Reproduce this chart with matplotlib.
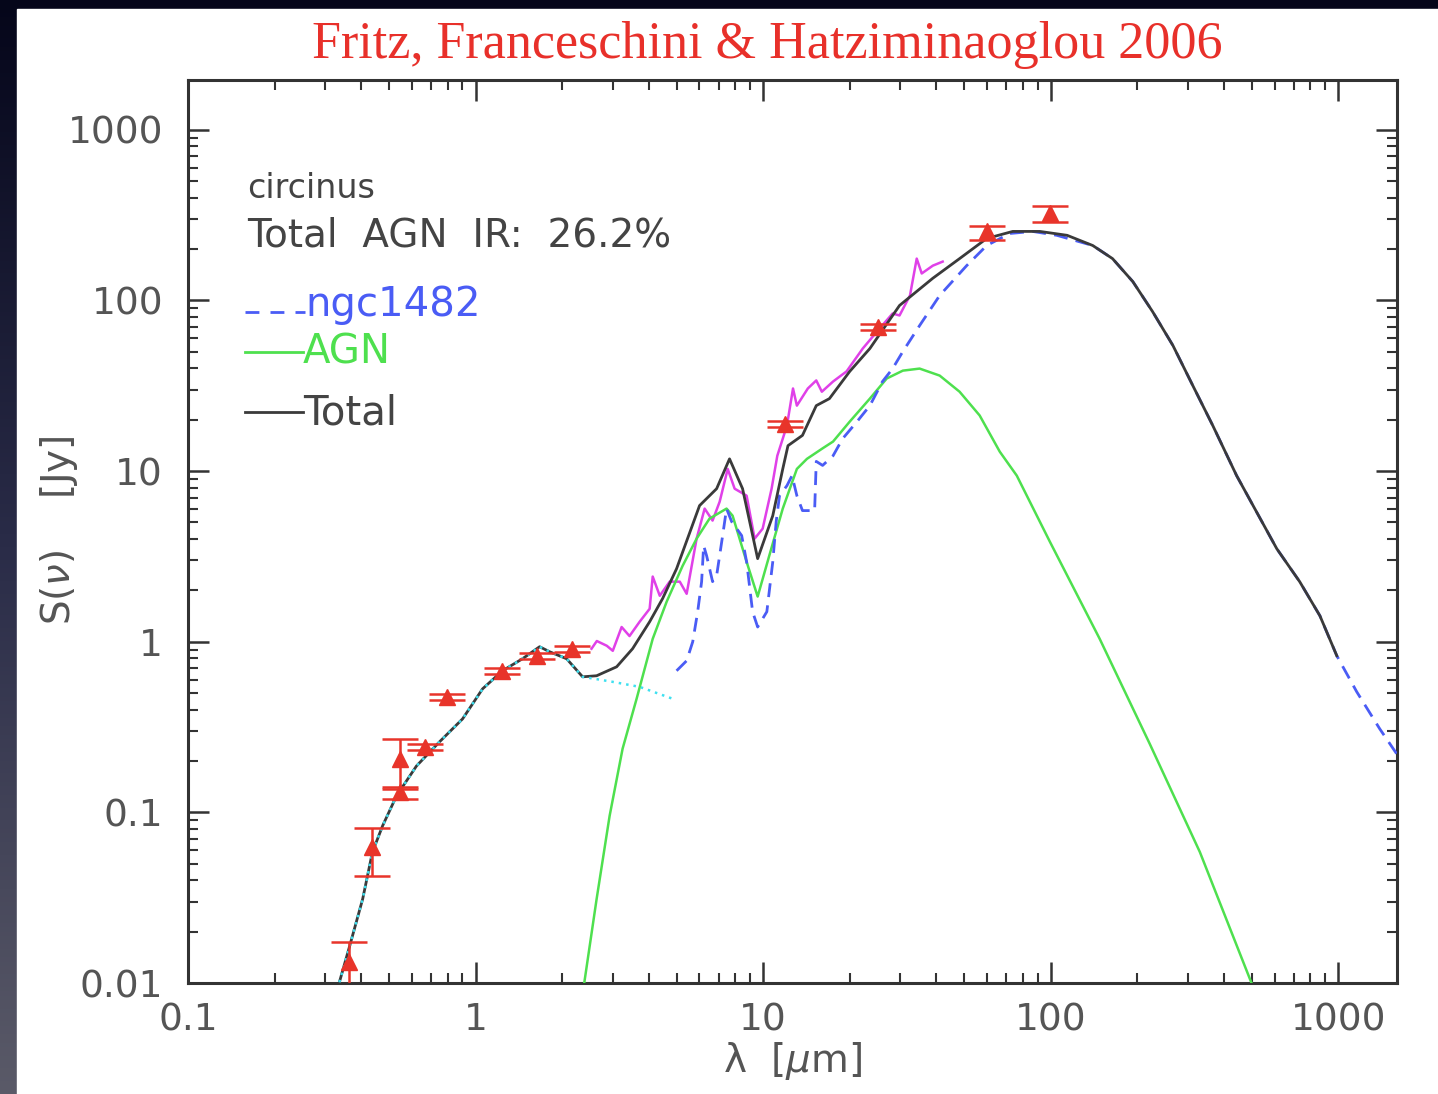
import matplotlib
matplotlib.use("Agg")
import matplotlib.pyplot as plt
import numpy as np
from matplotlib.ticker import LogLocator, NullFormatter
from matplotlib.patches import Rectangle

# total model (black)
lam_tot = [0.336, 0.365, 0.405, 0.438, 0.475, 0.531, 0.623, 0.749, 0.901, 1.058,
           1.241, 1.456, 1.670, 1.808, 2.073, 2.356, 2.636, 3.094, 3.515, 4.03,
           4.47, 5.00, 6.01, 6.89, 7.64, 8.48, 9.57, 10.8, 11.7, 12.2,
           13.7, 15.3, 17.0, 20.0, 23.5, 29.8, 38.9, 48.2, 59.9, 73.8,
           91.6, 114, 140, 164, 193, 226, 266, 312, 366, 443,
           611, 734, 863, 988]
s_tot = [0.0101, 0.0165, 0.0311, 0.0586, 0.0834, 0.125, 0.187, 0.259, 0.353, 0.530,
         0.676, 0.795, 0.935, 0.874, 0.795, 0.623, 0.632, 0.713, 0.910, 1.31,
         1.79, 2.68, 6.28, 7.89, 11.8, 7.89, 3.07, 5.48, 10.3, 14.1,
         16.2, 24.2, 26.6, 38.4, 52.3, 93.5, 135, 176, 231, 254,
         254, 241, 210, 176, 129, 86.1, 54.5, 31.7, 18.5, 9.41,
         3.51, 2.25, 1.42, 0.828]

# starburst template ngc1482 (blue dashed)
lam_sb = [5.00, 5.42, 5.69, 5.92, 6.11, 6.21, 6.36, 6.67, 6.89, 7.23,
          7.46, 7.77, 8.42, 8.76, 9.19, 9.57, 10.3, 10.8, 11.1, 11.4,
          12.1, 12.6, 13.1, 13.7, 15.1, 15.3, 16.1, 17.5, 18.9, 21.2,
          23.5, 26.0, 28.2, 30.6, 35.0, 41.1, 51.0, 59.9, 72.0, 86.5,
          105, 140, 164, 193, 226, 266, 312, 366, 443, 611,
          734, 863, 988, 1159, 1393, 1597]
s_sb = [0.676, 0.774, 1.0, 1.50, 2.25, 3.66, 3.19, 2.25, 2.44, 4.19,
        6.03, 5.06, 4.19, 2.94, 1.50, 1.22, 1.50, 2.94, 5.06, 7.18,
        8.22, 9.41, 7.18, 5.87, 5.87, 11.4, 10.8, 12.3, 15.5, 19.5,
        24.2, 33.5, 39.9, 50.2, 71.3, 107, 160, 210, 247, 254,
        241, 210, 176, 129, 86.1, 54.5, 31.7, 18.5, 9.41, 3.51,
        2.25, 1.42, 0.828, 0.509, 0.309, 0.220]

# AGN torus (green)
lam_agn = [2.356, 2.636, 2.925, 3.245, 3.63, 4.13, 4.62, 5.25, 5.87, 6.51,
           7.46, 7.83, 8.76, 9.57, 10.5, 11.7, 13.1, 14.2, 16.1, 17.5,
           20.0, 23.5, 26.9, 30.6, 35.0, 41.1, 48.2, 56.6, 66.5, 76.2,
           99.3, 148, 221, 330, 517]
s_agn = [0.0086, 0.0311, 0.0954, 0.236, 0.463, 1.04, 1.72, 2.79, 4.02, 5.27,
         6.03, 5.48, 2.94, 1.84, 3.19, 6.03, 10.3, 11.8, 13.6, 14.9,
         19.5, 26.6, 34.9, 38.8, 39.9, 36.3, 29.2, 21.2, 13.0, 9.41,
         3.86, 1.04, 0.252, 0.0586, 0.0086]

# stellar component (cyan dotted)
lam_star = [0.336, 0.365, 0.405, 0.438, 0.475, 0.531, 0.623, 0.749, 0.901, 1.058,
            1.241, 1.456, 1.670, 1.808, 2.073, 2.356, 3.00, 3.72, 4.85]
s_star = [0.0101, 0.0165, 0.0311, 0.0586, 0.0834, 0.125, 0.187, 0.259, 0.353, 0.530,
          0.676, 0.795, 0.935, 0.874, 0.795, 0.623, 0.582, 0.544, 0.463]

# IR spectrum (magenta)
lam_spec = [2.53, 2.64, 2.86, 3.00, 3.22, 3.43, 3.72, 4.03, 4.13, 4.37,
            4.73, 5.13, 5.42, 5.87, 6.26, 6.67, 7.06, 7.53, 7.96, 8.76,
            9.34, 9.96, 10.7, 11.2, 12.1, 12.7, 13.1, 14.3, 15.3, 16.0,
            17.5, 19.5, 22.2, 25.4, 28.2, 29.8, 32.4, 34.2, 35.6, 38.9, 42.1]
s_spec = [0.910, 1.01, 0.947, 0.885, 1.22, 1.08, 1.31, 1.56, 2.41, 1.86,
          2.25, 2.25, 1.91, 4.02, 6.03, 5.13, 6.62, 10.3, 7.89, 7.18,
          4.02, 4.60, 7.89, 12.3, 18.5, 30.5, 24.2, 30.5, 34.0, 29.2,
          33.5, 38.4, 52.3, 68.5, 83.9, 81.7, 107, 176, 144, 160, 169]

# photometry
lam_obs = [0.362, 0.438, 0.544, 0.544, 0.665, 0.793, 1.24, 1.64, 2.16, 11.9, 25.0, 59.9, 99.3]
s_obs = [0.0133, 0.0628, 0.206, 0.132, 0.242, 0.476, 0.676, 0.828, 0.910, 19.0, 70.4, 254, 324]
s_lo = [0.0080, 0.0424, 0.137, 0.120, 0.232, 0.456, 0.648, 0.794, 0.873, 18.2, 67.5, 225, 290]
s_hi = [0.0174, 0.0811, 0.270, 0.141, 0.252, 0.496, 0.704, 0.862, 0.947, 19.8, 73.3, 275, 356]

fig = plt.figure(figsize=(14.38, 10.94), dpi=100)

# dark backdrop with white panel
bg = fig.add_axes([0, 0, 1, 1], zorder=-10)
grad = np.linspace(0, 1, 256).reshape(-1, 1)
bg.imshow(grad, aspect='auto', cmap=matplotlib.colors.LinearSegmentedColormap.from_list(
    'bg', ['#05061a', '#2a2c48', '#5a5a68']), extent=[0, 1, 0, 1], origin='upper')
bg.set_xlim(0, 1)
bg.set_ylim(0, 1)
bg.axis('off')
bg.add_patch(Rectangle((17 / 1438, 0), 1, 1 - 9 / 1094, color='white', zorder=2))

ax = fig.add_axes([188 / 1438, 1 - 983 / 1094, 1209 / 1438, 903 / 1094])
ax.set_xscale('log')
ax.set_yscale('log')
ax.set_xlim(0.1, 1600)
ax.set_ylim(0.01, 1960)
ax.patch.set_alpha(0)

ax.plot(lam_spec, s_spec, color='#e040e8', lw=1.8, zorder=3)
ax.plot(lam_agn, s_agn, color='#4ee04e', lw=1.8, zorder=4)
ax.plot(lam_sb, s_sb, color='#4a5cf5', lw=2.0, ls=(0, (5, 3)), zorder=5)
ax.plot(lam_tot, s_tot, color='#3a3a3a', lw=2.0, zorder=6)
ax.plot(lam_star, s_star, color='#3ee0f0', lw=1.8, ls=(0, (1, 2)), zorder=7)

yerr = [np.array(s_obs) - np.array(s_lo), np.array(s_hi) - np.array(s_obs)]
ax.errorbar(lam_obs, s_obs, yerr=yerr, fmt='^', color='#e8342a', ms=11,
            capsize=13, elinewidth=1.8, capthick=1.8, zorder=8)

ax.set_xticks([0.1, 1, 10, 100, 1000], labels=['0.1', '1', '10', '100', '1000'])
ax.set_yticks([0.01, 0.1, 1, 10, 100, 1000], labels=['0.01', '0.1', '1', '10', '100', '1000'])
ax.xaxis.set_minor_locator(LogLocator(subs=np.arange(2, 10)))
ax.yaxis.set_minor_locator(LogLocator(subs=np.arange(2, 10)))
ax.xaxis.set_minor_formatter(NullFormatter())
ax.yaxis.set_minor_formatter(NullFormatter())
ax.tick_params(which='both', direction='in', top=True, right=True, color='#333333')
ax.tick_params(which='major', length=15, width=1.8, labelsize=27, labelcolor='#555555')
ax.tick_params(which='minor', length=7, width=1.5)
ax.tick_params(axis='x', pad=14)
ax.tick_params(axis='y', pad=18)
for sp in ax.spines.values():
    sp.set_color('#333333')
    sp.set_linewidth(2.2)

ax.set_xlabel('λ  [$\\mu$m]', fontsize=28, color='#555555')
ax.xaxis.set_label_coords(0.5, -(1040 - 983) / 903)
ax.set_ylabel(r'S($\nu$)    [Jy]', fontsize=28, color='#555555')
ax.yaxis.set_label_coords(-(188 - 80) / 1209, (983 - 530) / 903)

ax.text(0.0488, 0.880, 'circinus', transform=ax.transAxes, fontsize=24,
        color='#444444', va='center')
ax.text(0.0488, 0.828, 'Total  AGN  IR:  26.2%', transform=ax.transAxes, fontsize=28,
        color='#444444', va='center')

ax.plot([0.047, 0.097], [0.743, 0.743], transform=ax.transAxes, color='#4a5cf5',
        lw=2.0, ls=(0, (5, 4)))
ax.text(0.097, 0.751, 'ngc1482', transform=ax.transAxes, fontsize=29,
        color='#4a5cf5', va='center')
ax.plot([0.047, 0.095], [0.699, 0.699], transform=ax.transAxes, color='#4ee04e', lw=2.0)
ax.text(0.095, 0.698, 'AGN', transform=ax.transAxes, fontsize=29,
        color='#4ee04e', va='center')
ax.plot([0.047, 0.095], [0.632, 0.632], transform=ax.transAxes, color='#3a3a3a', lw=2.0)
ax.text(0.095, 0.631, 'Total', transform=ax.transAxes, fontsize=29,
        color='#444444', va='center')

fig.text(767 / 1438, 1 - 45 / 1094, 'Fritz, Franceschini & Hatziminaoglou 2006',
         fontsize=37.5, color='#e8302a', family='Liberation Serif', ha='center', va='center')

fig.savefig('out.png', dpi=100)
